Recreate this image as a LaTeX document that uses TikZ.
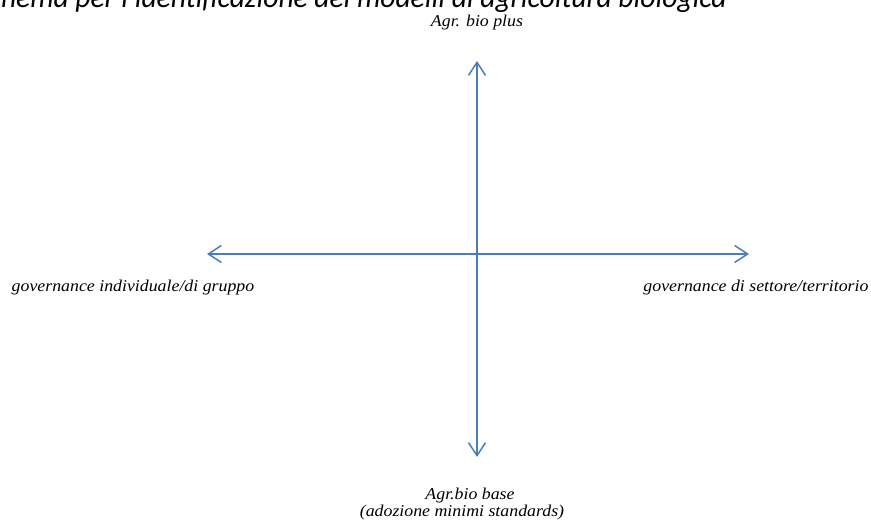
\documentclass[tikz,border=0pt]{standalone}
\usepackage{fontspec}
\setmainfont{Liberation Serif}
\newfontfamily\lblfont[FakeStretch=1.08]{Liberation Serif}
\newfontfamily\titlefont{Carlito}
\usetikzlibrary{arrows.meta}
\definecolor{axisblue}{HTML}{4A7EBB}
\tikzset{
  axis/.style={draw=axisblue, line width=1.5pt, -{Straight Barb[length=13pt,width=17pt,line width=1.5pt]}},
  lbl/.style={font=\fontsize{16.5}{16}\selectfont\lblfont\itshape, inner sep=0pt, anchor=base},
  ttl/.style={font=\fontsize{29.5}{30}\selectfont\titlefont\itshape, inner sep=0pt, anchor=base east}
}
\begin{document}
\begin{tikzpicture}[x=1pt,y=-1pt]
\useasboundingbox (0,0) rectangle (871,522);
\node[ttl] (title) at (727,7) {Schema per l'identificazione dei modelli di agricoltura biologica};
\coordinate (c) at (477,254);
\coordinate (top) at (477,61);
\coordinate (bot) at (477,457);
\coordinate (lft) at (207,254);
\coordinate (rgt) at (749,254);
\draw[axis] (c) -- (top);
\draw[axis] (c) -- (bot);
\draw[axis] (c) -- (lft);
\draw[axis] (c) -- (rgt);
\node[lbl] (plus) at (477,26) {Agr. bio plus};
\node[lbl] (indiv) at (133,291) {governance individuale/di gruppo};
\node[lbl] (sett) at (756,291) {governance di settore/territorio};
\node[lbl] (base) at (470,499) {Agr.bio base};
\node[lbl] (base2) at (462,516) {(adozione minimi standards)};
\end{tikzpicture}
\end{document}
